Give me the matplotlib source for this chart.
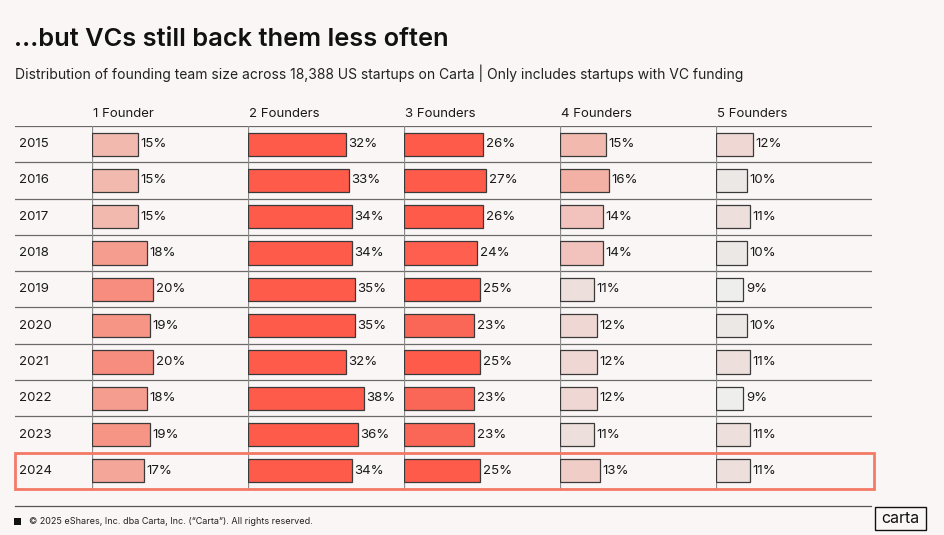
import matplotlib.pyplot as plt
import numpy as np
from matplotlib.colors import LinearSegmentedColormap, Normalize
from matplotlib.patches import Rectangle

years = ["2015", "2016", "2017", "2018", "2019", "2020", "2021", "2022", "2023", "2024"]
columns = ["1 Founder", "2 Founders", "3 Founders", "4 Founders", "5 Founders"]

one_founder = [15, 15, 15, 18, 20, 19, 20, 18, 19, 17]
two_founders = [32, 33, 34, 34, 35, 35, 32, 38, 36, 34]
three_founders = [26, 27, 26, 24, 25, 23, 25, 23, 23, 25]
four_founders = [15, 16, 14, 14, 11, 12, 12, 12, 11, 13]
five_founders = [12, 10, 11, 10, 9, 10, 11, 9, 11, 11]
series = [one_founder, two_founders, three_founders, four_founders, five_founders]

W, H = 945, 535
bg = "#faf6f5"

fig = plt.figure(figsize=(W / 100, H / 100), dpi=100, facecolor=bg)
plt.rcParams["font.family"] = ["Inter", "DejaVu Sans"]


def fx(px):
    return px / W


def fy(py):
    return 1 - py / H


# colour ramp from light grey to coral
cmap = LinearSegmentedColormap.from_list(
    "carta",
    [(0.0, "#eeeeec"), (0.08, "#ece6e3"), (0.2, "#efd6d2"),
     (0.4, "#f2b7ad"), (0.6, "#f59a8b"), (0.7, "#f78f80"),
     (0.87, "#fa6b5b"), (1.0, "#ff5b4b")])
norm = Normalize(vmin=9, vmax=24.5, clip=True)

top, bottom = 126, 489
left, right = 15, 872
col_w = 156
col0 = 92

# background table axes for row lines and year labels
tab = fig.add_axes([fx(left), fy(bottom), fx(right - left), (bottom - top) / H])
tab.set_xlim(0, 1)
tab.set_ylim(len(years) - 0.5, -0.5)
tab.axis("off")
for i in range(len(years) + 1):
    tab.axhline(i - 0.5, color="#6a6a6a", lw=0.9, zorder=1)
for i, y in enumerate(years):
    tab.text(4 / (right - left), i, y, ha="left", va="center", fontsize=9.5, color="#1a1a1a")

for c, (name, vals) in enumerate(zip(columns, series)):
    x0 = col0 + c * col_w
    ax = fig.add_axes([fx(x0), fy(bottom), fx(col_w), (bottom - top) / H])
    ax.set_facecolor("none")
    ax.set_xlim(0, col_w / 3.05)
    ax.set_ylim(len(years) - 0.5, -0.5)
    ax.axis("off")
    ax.axvline(0, color="#8a8a8a", lw=0.9, zorder=1)
    ax.barh(np.arange(len(years)), vals, height=0.64, color=cmap(norm(np.array(vals))),
            edgecolor="#3a3a3a", linewidth=0.9, zorder=2)
    for i, v in enumerate(vals):
        ax.text(v + 0.9, i, f"{v}%", ha="left", va="center", fontsize=9.5,
                color="#1a1a1a", zorder=3)
    fig.text(fx(x0 + 1), fy(114), name, ha="left", va="center", fontsize=9.5, color="#1a1a1a")

# highlight 2024 row
fig.patches.append(Rectangle((fx(15), fy(489)), fx(874 - 15), (489 - 453) / H,
                             transform=fig.transFigure, fill=False,
                             edgecolor="#f47a66", lw=2, zorder=5))

fig.text(fx(14), fy(40), "\u2026but VCs still back them less often", ha="left", va="center",
         fontsize=18.3, fontweight="semibold", color="#111111")
fig.text(fx(15), fy(73),
         "Distribution of founding team size across 18,388 US startups on Carta | Only includes startups with VC funding",
         ha="left", va="center", fontsize=10, color="#222222")

# footer
fig.add_artist(plt.Line2D([fx(15), fx(871)], [fy(506), fy(506)], color="#555555", lw=0.9))
fig.patches.append(Rectangle((fx(14), fy(525)), fx(7), 7 / H, transform=fig.transFigure,
                             facecolor="#111111", edgecolor="none"))
fig.text(fx(29), fy(521.5), "\u00a9 2025 eShares, Inc. dba Carta, Inc. (\u201cCarta\u201d). All rights reserved.",
         ha="left", va="center", fontsize=6.5, color="#222222")
fig.patches.append(Rectangle((fx(875), fy(530)), fx(51), 23 / H, transform=fig.transFigure,
                             facecolor="none", edgecolor="#111111", lw=1))
fig.text(fx(900.5), fy(518.5), "carta", ha="center", va="center", fontsize=11.5, color="#111111")

fig.savefig("out.png", dpi=100, facecolor=bg)
